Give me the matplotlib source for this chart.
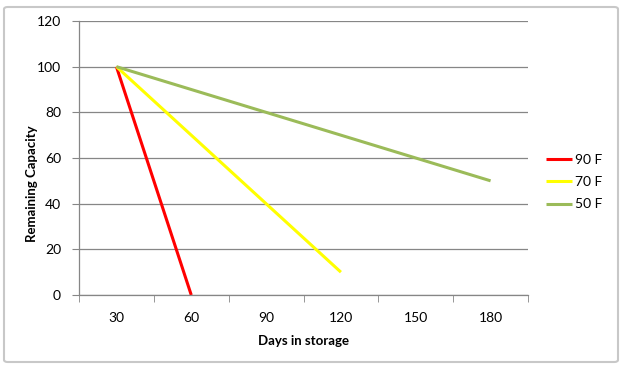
import matplotlib.pyplot as plt
from matplotlib.patches import FancyBboxPatch

days = ["30", "60", "90", "120", "150", "180"]
f90 = [100, 0]
f70 = [100, 70, 40, 10]
f50 = [100, 90, 80, 70, 60, 50]

plt.rcParams['font.family'] = ['Lato', 'DejaVu Sans']

fig = plt.figure(figsize=(6.24, 3.68), dpi=100)
ax = fig.add_axes([79/624, 1-295/368, (528-79)/624, (295-21)/368])

x = list(range(len(days)))
ax.plot(x[:len(f90)], f90, color='#ff0000', lw=2.2, label='90 F', solid_capstyle='butt')
ax.plot(x[:len(f70)], f70, color='#ffff00', lw=2.2, label='70 F', solid_capstyle='butt')
ax.plot(x, f50, color='#9bbb59', lw=2.2, label='50 F', solid_capstyle='butt')

ax.set_xlim(-0.5, len(days) - 0.5)
ax.set_ylim(0, 120)
ax.set_yticks(range(0, 121, 20))
ax.set_xticks(x)
ax.set_xticklabels(days)
ax.set_xticks([i - 0.5 for i in range(len(days) + 1)], minor=True)
ax.tick_params(axis='x', which='major', length=0, pad=12, labelsize=10, colors='#000000')
ax.tick_params(axis='x', which='minor', length=5, color='#868686', direction='out')
ax.tick_params(axis='y', length=5, color='#868686', labelsize=10, pad=8)
ax.yaxis.grid(True, color='#868686', lw=0.9)
ax.set_axisbelow(True)
for s in ['top', 'right']:
    ax.spines[s].set_visible(False)
for s in ['left', 'bottom']:
    ax.spines[s].set_color('#868686')
    ax.spines[s].set_linewidth(0.9)

ax.set_xlabel('Days in storage', fontsize=9.5, fontweight='bold', labelpad=8)
ax.set_ylabel('Remaining Capacity', fontsize=9.5, fontweight='bold')
ax.yaxis.set_label_coords(32/624, 0.5, transform=fig.transFigure)
ax.yaxis.label.set_va('center')

leg = ax.legend(loc='center left', bbox_to_anchor=(539/624, 1-182/368),
                bbox_transform=fig.transFigure, frameon=False, borderpad=0,
                fontsize=10, handlelength=1.9, handletextpad=0.2, labelspacing=0.75)

border = FancyBboxPatch((4/624, 6/368), 614/624, 355/368,
                        boxstyle='round,pad=0,rounding_size=0.006',
                        transform=fig.transFigure, fill=False,
                        edgecolor='#c8c8c8', lw=1.5)
fig.patches.append(border)

fig.savefig('out.png', dpi=100)
